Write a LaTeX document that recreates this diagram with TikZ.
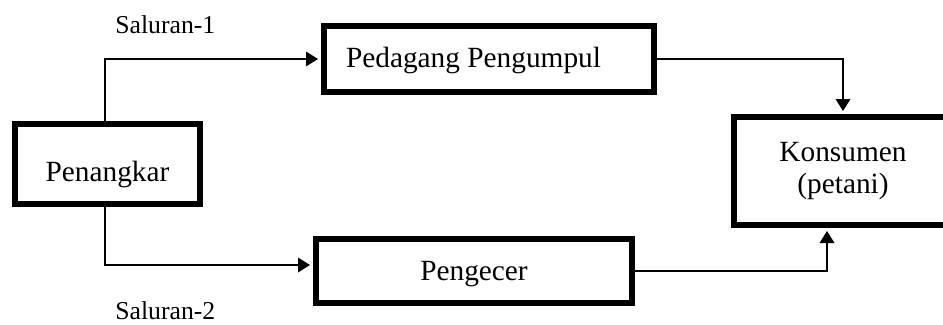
\documentclass[tikz,border=0pt]{standalone}
\usepackage{fontspec}
\setmainfont{Liberation Serif}
\usetikzlibrary{arrows.meta}
\begin{document}
\begin{tikzpicture}[x=0.75pt,y=-0.75pt,
  box/.style={draw, line width=4.5pt, rectangle, inner sep=0pt, font=\fontsize{22}{24}\selectfont},
  conn/.style={line width=1pt, -{Triangle[length=9pt,width=11pt]}, shorten >=2.25pt},
  lab/.style={anchor=base west, inner sep=0pt, font=\fontsize{19.3}{22}\selectfont}]
\clip (0,0) rectangle (943,325);
\node[box, minimum width=138.75pt, minimum height=60pt, text height=25.5pt, text depth=0pt] (pen) at (107.5,164) {Penangkar};
\node[box, minimum width=247.5pt, minimum height=49.5pt, text height=16.5pt, text depth=4.5pt] (ped) at (489,59) {Pedagang Pengumpul\hspace*{23.25pt}};
\node[box, minimum width=237pt, minimum height=48pt, text height=18pt, text depth=4.5pt] (pcr) at (474,271) {Pengecer};
\node[box, minimum width=163.5pt, minimum height=81pt, align=center] (kon) at (843,171) {Konsumen\\(petani)};
\node[lab] (s1) at (115,33) {Saluran-1};
\node[lab] (s2) at (115,319) {Saluran-2};
\draw[conn] ([xshift=-1.875pt]pen.north) |- (ped.west);
\draw[conn] ([xshift=-1.875pt]pen.south) |- ([yshift=4.5pt]pcr.west);
\draw[conn] (ped.east) -| (kon.north);
\draw[conn] (pcr.east) -| ([xshift=-12pt]kon.south);
\end{tikzpicture}
\end{document}
